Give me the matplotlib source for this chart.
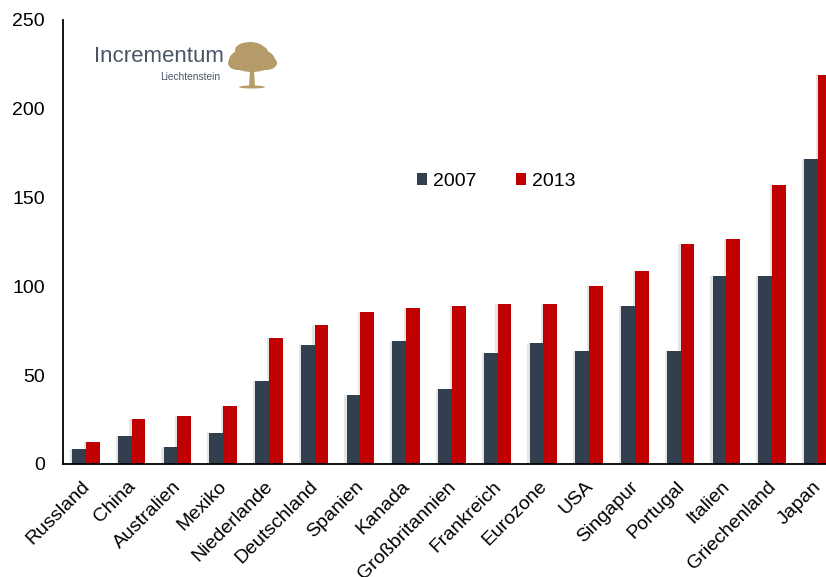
import matplotlib.pyplot as plt
import matplotlib.transforms as mtransforms
import numpy as np
from matplotlib.patches import Ellipse, Polygon

plt.rcParams['font.family'] = ['Liberation Sans', 'DejaVu Sans']

# Staatsverschuldung in % des BIP
laender = ["Russland", "China", "Australien", "Mexiko", "Niederlande",
           "Deutschland", "Spanien", "Kanada", "Großbritannien", "Frankreich",
           "Eurozone", "USA", "Singapur", "Portugal", "Italien",
           "Griechenland", "Japan"]
werte_2007 = [8.5, 15.6, 9.4, 17.6, 46.8, 67.2, 39.1, 69.5, 42.3, 62.7,
              68.2, 63.5, 88.7, 63.5, 106.1, 105.6, 171.7]
werte_2013 = [12.4, 25.4, 26.8, 32.9, 71.0, 78.0, 85.5, 87.7, 88.7, 90.2,
              90.2, 100.1, 108.6, 123.8, 126.8, 157.3, 219.1]
y_ticks = [0, 50, 100, 150, 200, 250]

navy = "#323F4F"
rot = "#C00000"

fig = plt.figure(figsize=(8.26, 5.77), dpi=100)
ax = fig.add_axes([63 / 826, 113 / 577, 777.75 / 826, 444 / 577])

x = np.arange(len(laender))
w = 0.30

# leichter Schatten links neben den Balken
ax.bar(x - w / 2 - 0.05, werte_2007, w, color="#000000", alpha=0.10, zorder=1, linewidth=0)
ax.bar(x + w / 2 - 0.05, werte_2013, w, color="#000000", alpha=0.10, zorder=1, linewidth=0)

ax.bar(x - w / 2, werte_2007, w, color=navy, label="2007", zorder=2)
ax.bar(x + w / 2, werte_2013, w, color=rot, label="2013", zorder=2)

ax.set_xlim(-0.5, len(laender) - 0.5)
ax.set_ylim(0, 250)
ax.set_yticks(y_ticks)
ax.set_xticks(x)
ax.set_xticklabels(laender, rotation=45, ha="right", va="top", rotation_mode="anchor")

ax.tick_params(axis="y", length=0, pad=13, labelsize=14)
ax.tick_params(axis="x", length=0, pad=10, labelsize=14)

verschub = mtransforms.ScaledTranslation(-5 / 100, 0, fig.dpi_scale_trans)
for lab in ax.get_xticklabels():
    lab.set_transform(lab.get_transform() + verschub)

for s in ["top", "right"]:
    ax.spines[s].set_visible(False)
ax.spines["left"].set_linewidth(1.3)
ax.spines["bottom"].set_linewidth(1.3)

ax.legend(loc="center", bbox_to_anchor=(0.557, 0.637), ncol=2, frameon=False,
          fontsize=14, handlelength=0.55, handleheight=0.55, handletextpad=0.3,
          columnspacing=2.0)

# Logo
fig.text(94 / 826, 1 - 57 / 577, "Incrementum", fontsize=16, color="#4A5666",
         va="center", ha="left")
fig.text(220 / 826, 1 - 77 / 577, "Liechtenstein", fontsize=7.3, color="#4A5666",
         va="center", ha="right")

lax = fig.add_axes([226 / 826, 1 - 90 / 577, 52 / 826, 50 / 577])
lax.set_xlim(0, 52)
lax.set_ylim(0, 50)
lax.axis("off")
gold = "#B59B6A"
for cx, cy, ew, eh in [(26, 30, 46, 24), (12, 27, 20, 14), (40, 27, 22, 14),
                       (24, 40, 30, 16), (34, 38, 16, 12)]:
    lax.add_patch(Ellipse((cx, cy), ew, eh, color=gold, linewidth=0))
lax.add_patch(Polygon([(23, 3), (29, 3), (28, 20), (24, 20)], color=gold, linewidth=0))
lax.add_patch(Ellipse((26, 3), 26, 3, color=gold, linewidth=0))

fig.savefig("out.png", dpi=100)
